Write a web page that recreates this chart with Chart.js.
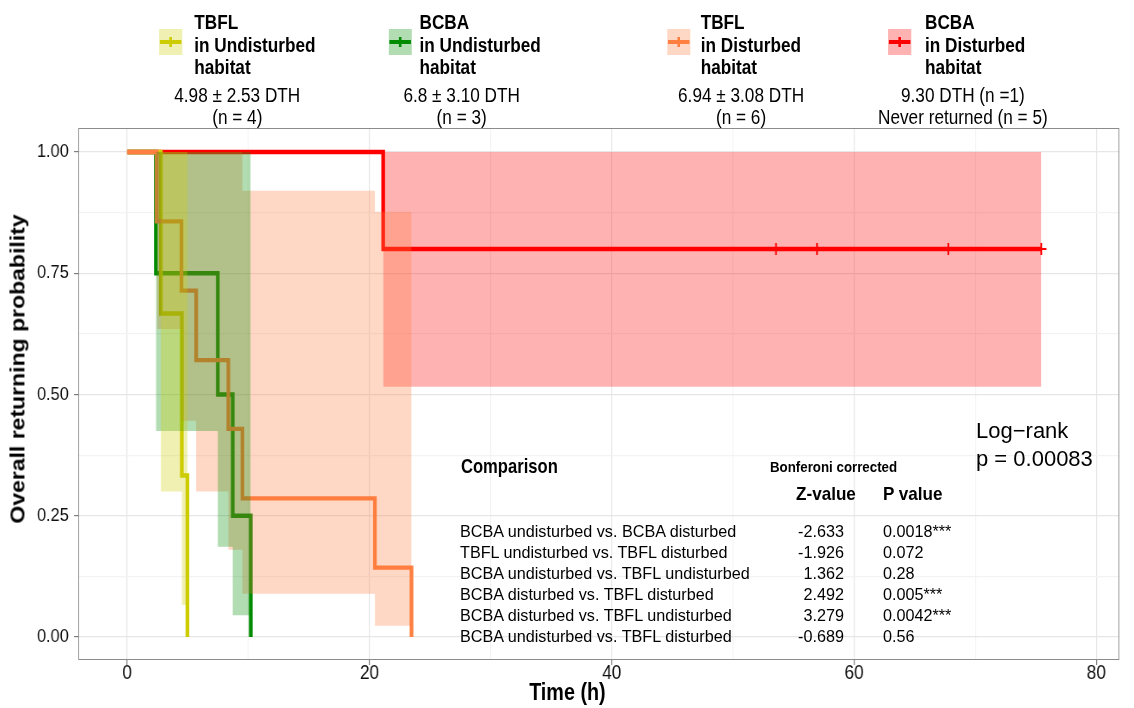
<!DOCTYPE html>
<html>
<head>
<meta charset="utf-8">
<script src="https://cdn.jsdelivr.net/npm/chart.js@4.4.0/dist/chart.umd.min.js"></script>
<style>
  body { margin: 0; background: #fff; font-family: "Liberation Sans", Arial, sans-serif; color: #000; }
  #page { position: relative; width: 1134px; height: 708px; overflow: hidden; }
  /* the figure itself is horizontally squashed in the reference */
  #fig { position: absolute; left: 0; top: 0; width: 1319px; height: 708px;
         transform: scaleX(0.8597); transform-origin: 0 0; }
  #fig canvas { position: absolute; left: 0; top: 0; }
  .t { position: absolute; white-space: nowrap; line-height: 1; }
  .key { position: absolute; width: 27px; height: 26px; }
  .key .ln { position: absolute; left: 1px; right: 1px; top: 11px; height: 4px; }
  .key .tk { position: absolute; left: 12px; width: 3px; top: 8px; height: 10px; }
</style>
</head>
<body>
<div id="page">
  <div id="fig"><canvas id="myChart" width="1319" height="708"></canvas></div>
</div>
<script>
// Kaplan-Meier steps (time in h, returning probability)
const tbflUndTime = [0, 2.78, 4.51, 4.97];
const tbflUndSurv = [1, 0.667, 0.333, 0];
const tbflUndUpper = [1, 1, 1, 1];
const tbflUndLower = [1, 0.3, 0.066, 0.066];

const bcbaUndTime = [0, 2.37, 7.48, 8.71, 10.2];
const bcbaUndSurv = [1, 0.75, 0.5, 0.25, 0];
const bcbaUndUpper = [1, 1, 1, 1, 1];
const bcbaUndLower = [1, 0.425, 0.186, 0.045, 0.045];

const tbflDisTime = [0, 2.45, 4.48, 5.69, 8.35, 9.51, 20.45, 23.47];
const tbflDisSurv = [1, 0.857, 0.714, 0.571, 0.429, 0.286, 0.143, 0];
const tbflDisUpper = [1, 1, 1, 1, 1, 0.92, 0.877, 0.877];
const tbflDisLower = [1, 0.635, 0.446, 0.3, 0.18, 0.089, 0.023, 0.023];

const bcbaDisTime = [0, 21.13, 75.46];
const bcbaDisSurv = [1, 0.8, 0.8];
const bcbaDisUpper = [1, 1, 1];
const bcbaDisLower = [1, 0.516, 0.516];
const bcbaDisCensor = [53.56, 56.94, 67.79, 75.46];

const xTicks = [0, 10, 20, 30, 40, 50, 60, 70, 80];
const yTicks = [0, 0.125, 0.25, 0.375, 0.5, 0.625, 0.75, 0.875, 1];

const legendTitles = ["TBFL", "BCBA", "TBFL", "BCBA"];
const legendHabitats = ["in Undisturbed", "in Undisturbed", "in Disturbed", "in Disturbed"];
const legendStats = [
  ["4.98 \u00b1 2.53 DTH", "(n = 4)"],
  ["6.8 \u00b1 3.10 DTH", "(n = 3)"],
  ["6.94 \u00b1 3.08 DTH", "(n = 6)"],
  ["9.30 DTH (n =1)", "Never returned (n = 5)"],
];

const comparisons = [
  "BCBA undisturbed vs. BCBA disturbed",
  "TBFL undisturbed vs. TBFL disturbed",
  "BCBA undisturbed vs. TBFL undisturbed",
  "BCBA disturbed vs. TBFL disturbed",
  "BCBA disturbed vs. TBFL undisturbed",
  "BCBA undisturbed vs. TBFL disturbed",
];
const zValues = ["-2.633", "-1.926", "1.362", "2.492", "3.279", "-0.689"];
const pValues = ["0.0018***", "0.072", "0.28", "0.005***", "0.0042***", "0.56"];

const lineColors = ["#cccc00", "#008b00", "rgb(255,127,64)", "#ff0000"];
const bandColors = ["rgba(204,204,0,0.3)", "rgba(0,139,0,0.3)", "rgba(255,127,64,0.3)", "rgba(255,0,0,0.3)"];

const fig = document.getElementById("fig");
const page = document.getElementById("page");

function pts(times, vals, from) {
  return times.slice(from || 0).map((t, i) => ({ x: t, y: vals.slice(from || 0)[i] }));
}

// confidence ribbon: upper line filled down to the lower line
function band(times, upper, lower, color) {
  return [
    { data: pts(times, upper, 1), stepped: true, borderWidth: 0, pointRadius: 0,
      backgroundColor: color, fill: "+1" },
    { data: pts(times, lower, 1), stepped: true, borderWidth: 0, pointRadius: 0, fill: false },
  ];
}

function curve(times, surv, color) {
  return { data: pts(times, surv), stepped: true, borderColor: color, borderWidth: 4.3,
    pointRadius: 0, fill: false };
}

// first datasets are drawn last, so the ribbons lie over the lines like in the picture
const datasets = [
  ...band(tbflUndTime, tbflUndUpper, tbflUndLower, bandColors[0]),
  ...band(bcbaUndTime, bcbaUndUpper, bcbaUndLower, bandColors[1]),
  ...band(tbflDisTime, tbflDisUpper, tbflDisLower, bandColors[2]),
  ...band(bcbaDisTime, bcbaDisUpper, bcbaDisLower, bandColors[3]),
  { data: bcbaDisCensor.map((t) => ({ x: t, y: bcbaDisSurv[1] })), showLine: false,
    pointStyle: "cross", pointRadius: 6, pointBorderWidth: 2, borderColor: "#ff0000", rotation: 0 },
  curve(tbflDisTime, tbflDisSurv, lineColors[2]),
  curve(tbflUndTime, tbflUndSurv, lineColors[0]),
  curve(bcbaUndTime, bcbaUndSurv, lineColors[1]),
  curve(bcbaDisTime, bcbaDisSurv, lineColors[3]),
];

const panelBorder = {
  id: "panelBorder",
  afterDraw(chart) {
    const { ctx, chartArea: a } = chart;
    ctx.save();
    ctx.strokeStyle = "#8c8c8c";
    ctx.lineWidth = 1;
    ctx.strokeRect(a.left + 0.5, a.top + 0.5, a.right - a.left - 1, a.bottom - a.top - 1);
    ctx.restore();
  },
};

const myChart = new Chart(document.getElementById("myChart"), {
  type: "line",
  data: { datasets },
  plugins: [panelBorder],
  options: {
    responsive: false,
    animation: false,
    layout: { padding: { left: 0, right: 17, top: 128, bottom: 0 } },
    plugins: { legend: { display: false }, tooltip: { enabled: false } },
    scales: {
      x: {
        type: "linear",
        min: -4.04,
        max: 81.9,
        afterBuildTicks: (axis) => { axis.ticks = xTicks.map((v) => ({ value: v })); },
        afterFit: (axis) => { axis.height = 48; },
        border: { display: false },
        grid: {
          color: (c) => (c.tick && c.tick.value % 20 === 0 ? "#e6e6e6" : "#f3f3f3"),
          tickColor: (c) => (c.tick && c.tick.value % 20 === 0 ? "#7f7f7f" : "rgba(0,0,0,0)"),
          tickLength: 5,
          lineWidth: 1.2,
        },
        ticks: {
          padding: -2,
          color: "#111",
          font: { family: "Liberation Sans", size: 20, lineHeight: 1 },
          callback: (v) => (v % 20 === 0 ? String(v) : ""),
        },
      },
      y: {
        type: "linear",
        min: -0.0474,
        max: 1.0495,
        afterBuildTicks: (axis) => { axis.ticks = yTicks.map((v) => ({ value: v })); },
        afterFit: (axis) => { axis.width = 91; },
        border: { display: false },
        grid: {
          color: (c) => (c.tick && c.tick.value % 0.25 === 0 ? "#e6e6e6" : "#f3f3f3"),
          tickColor: (c) => (c.tick && c.tick.value % 0.25 === 0 ? "#7f7f7f" : "rgba(0,0,0,0)"),
          tickLength: 5,
          lineWidth: 1.2,
        },
        ticks: {
          padding: 6,
          color: "#111",
          font: { family: "Liberation Sans", size: 19 },
          callback: (v) => (v % 0.25 === 0 ? v.toFixed(2) : ""),
        },
      },
    },
  },
});

// text placed by its centre line; sx squeezes it sideways
function addText(parent, str, x, y, size, weight, align, sx) {
  const el = document.createElement("div");
  el.className = "t";
  el.textContent = str;
  el.style.left = x + "px";
  el.style.top = y + "px";
  el.style.fontSize = size + "px";
  el.style.fontWeight = weight;
  const tx = align === "center" ? "-50%" : align === "right" ? "-100%" : "0";
  const ox = align === "center" ? "50%" : align === "right" ? "100%" : "0";
  el.style.transformOrigin = ox + " 50%";
  el.style.transform = `translate(${tx},-50%) scaleX(${sx || 1})`;
  parent.appendChild(el);
  return el;
}

// axis titles (inside the squashed figure)
const yTitle = addText(fig, "Overall returning probability", 21, 369, 23, "bold", "center");
yTitle.style.transform = "translate(-50%,-50%) rotate(-90deg)";
addText(fig, "Time (h)", 660, 692, 23, "bold", "center");

// legend
const keyLeft = [185, 452, 776, 1033];
const textLeft = [226, 488, 815, 1076];
const statCenter = [276, 537, 862, 1120];
legendTitles.forEach((title, i) => {
  const key = document.createElement("div");
  key.className = "key";
  key.style.left = keyLeft[i] + "px";
  key.style.top = "29px";
  key.style.background = bandColors[i];
  key.innerHTML = `<div class="ln" style="background:${lineColors[i]}"></div>` +
    `<div class="tk" style="background:${lineColors[i]}"></div>`;
  fig.appendChild(key);

  addText(fig, title, textLeft[i], 22, 20, "bold", "left");
  addText(fig, legendHabitats[i], textLeft[i], 44.5, 20, "bold", "left");
  addText(fig, "habitat", textLeft[i], 67, 20, "bold", "left");
  addText(fig, legendStats[i][0], statCenter[i], 94.5, 20, "normal", "center");
  addText(fig, legendStats[i][1], statCenter[i], 116.5, 20, "normal", "center");
});

// comparison table and log-rank note, added on top of the figure
addText(page, "Comparison", 461, 465, 21, "bold", "left", 0.79);
addText(page, "Bonferoni corrected", 770, 467, 14, "bold", "left", 0.95);
addText(page, "Z-value", 796, 493, 19, "bold", "left", 0.9);
addText(page, "P value", 883, 493, 19, "bold", "left", 0.9);
comparisons.forEach((c, i) => {
  const y = 531 + i * 21;
  addText(page, c, 460, y, 16.2, "normal", "left");
  addText(page, zValues[i], 844, y, 16.2, "normal", "right");
  addText(page, pValues[i], 883, y, 16.2, "normal", "left");
});
addText(page, "Log\u2212rank", 976, 431, 22, "normal", "left");
addText(page, "p = 0.00083", 976, 459, 22, "normal", "left");
</script>
</body>
</html>
